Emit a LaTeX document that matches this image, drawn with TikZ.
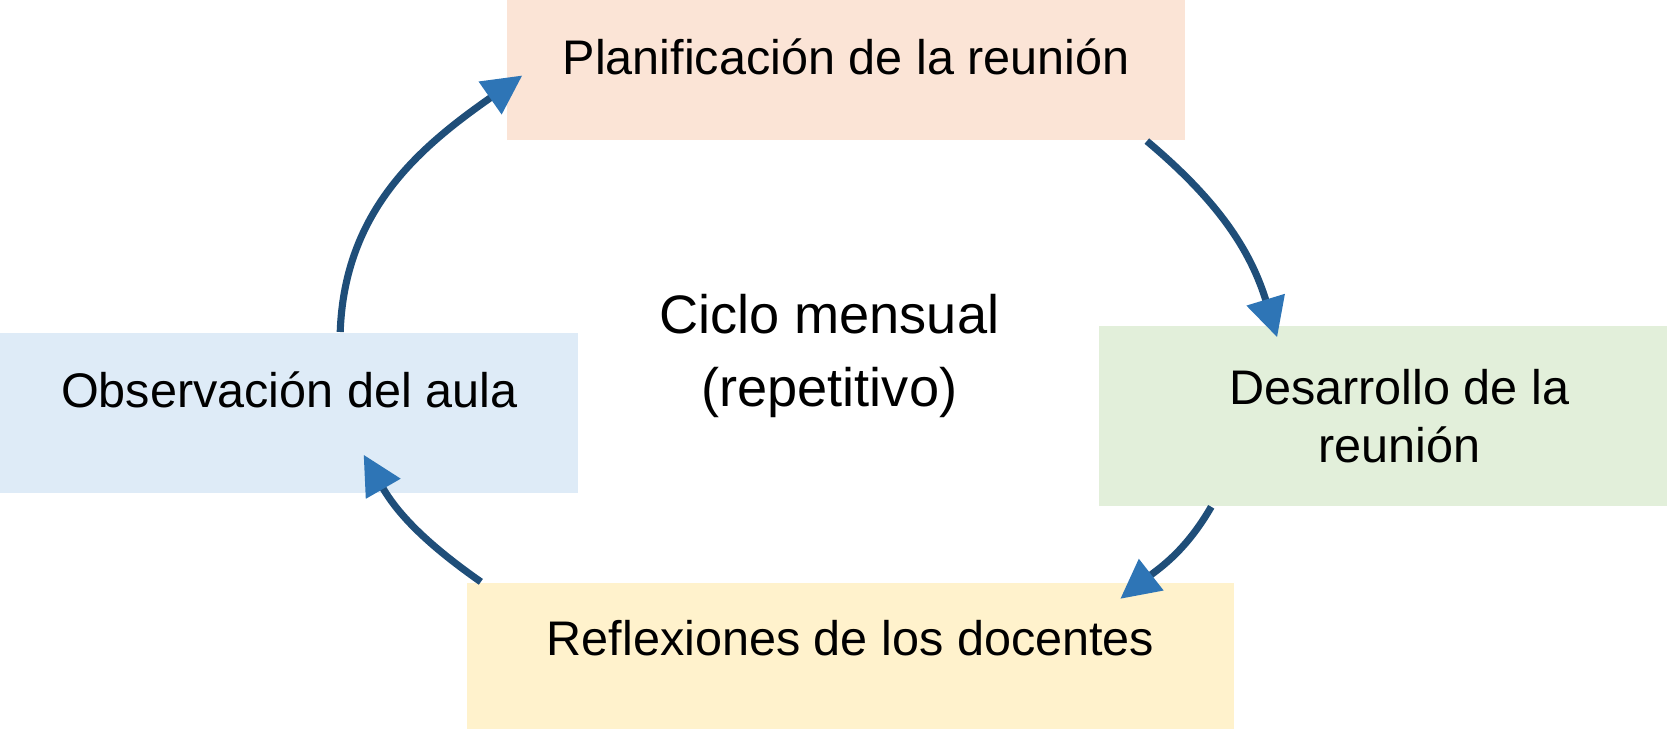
\documentclass[tikz,border=0pt]{standalone}
\usepackage{fontspec}
\setmainfont{Liberation Sans}
\usepackage{xcolor}
\usepackage{tikz}
\usetikzlibrary{arrows.meta, positioning}
\definecolor{planfill}{RGB}{251,228,214}
\definecolor{devfill}{RGB}{226,239,218}
\definecolor{reflfill}{RGB}{255,242,204}
\definecolor{obsfill}{RGB}{222,235,247}
\definecolor{cycleline}{RGB}{31,78,121}
\definecolor{cyclehead}{RGB}{46,117,182}
\tikzset{
    stagebox/.style={rectangle, inner sep=0pt, text centered, font=\fontsize{13}{15.4}\selectfont},
    cyclearrow/.style={-{Triangle[length=0.37cm, width=0.36cm, color=cyclehead]}, line width=1.9pt, draw=cycleline}
}

\begin{document}
\begin{tikzpicture}[
    plan/.style={stagebox, fill=planfill, minimum width=6.38cm, text height=0.70cm, text depth=0.62cm, anchor=base},
    obs/.style={stagebox, fill=obsfill, minimum width=5.44cm, text height=0.70cm, text depth=0.81cm, anchor=base},
    dev/.style={stagebox, fill=devfill, minimum width=5.64cm, minimum height=1.69cm, align=center},
    refl/.style={stagebox, fill=reflfill, minimum width=7.22cm, text height=0.69cm, text depth=0.90cm, anchor=base},
    centre/.style={align=center, font=\fontsize{14.5}{19.4}\selectfont}
]
    \useasboundingbox (0,0) rectangle (15.68,6.85);

    % Central label
    \node[centre] (ciclo) at (7.80,3.50) {Ciclo mensual\\(repetitivo)};

    % Stages
    \node[plan] (plan) at (7.96,6.15) {Planificación de la reunión};
    \node[dev] (dev) at (13.16,2.935) {Desarrollo de la\\reunión};
    \node[refl] (refl) at (8.00,0.68) {Reflexiones de los docentes};
    \node[obs] (obs) at (2.72,3.02) {Observación del aula};

    % Connections
    \draw[cyclearrow] ([xshift=0.48cm]obs.north) to[out=88, in=215] ([xshift=0.15cm, yshift=-0.05cm]plan.west);
    \draw[cyclearrow] ([xshift=-0.37cm]plan.south east) to[out=-40, in=107] ([xshift=1.68cm, yshift=-0.11cm]dev.north west);
    \draw[cyclearrow] ([xshift=1.06cm]dev.south west) to[out=-120, in=38] ([xshift=-1.08cm, yshift=-0.16cm]refl.north east);
    \draw[cyclearrow] ([xshift=0.14cm]refl.north west) to[out=145, in=-60] ([xshift=0.70cm, yshift=0.37cm]obs.south);
\end{tikzpicture}
\end{document}
